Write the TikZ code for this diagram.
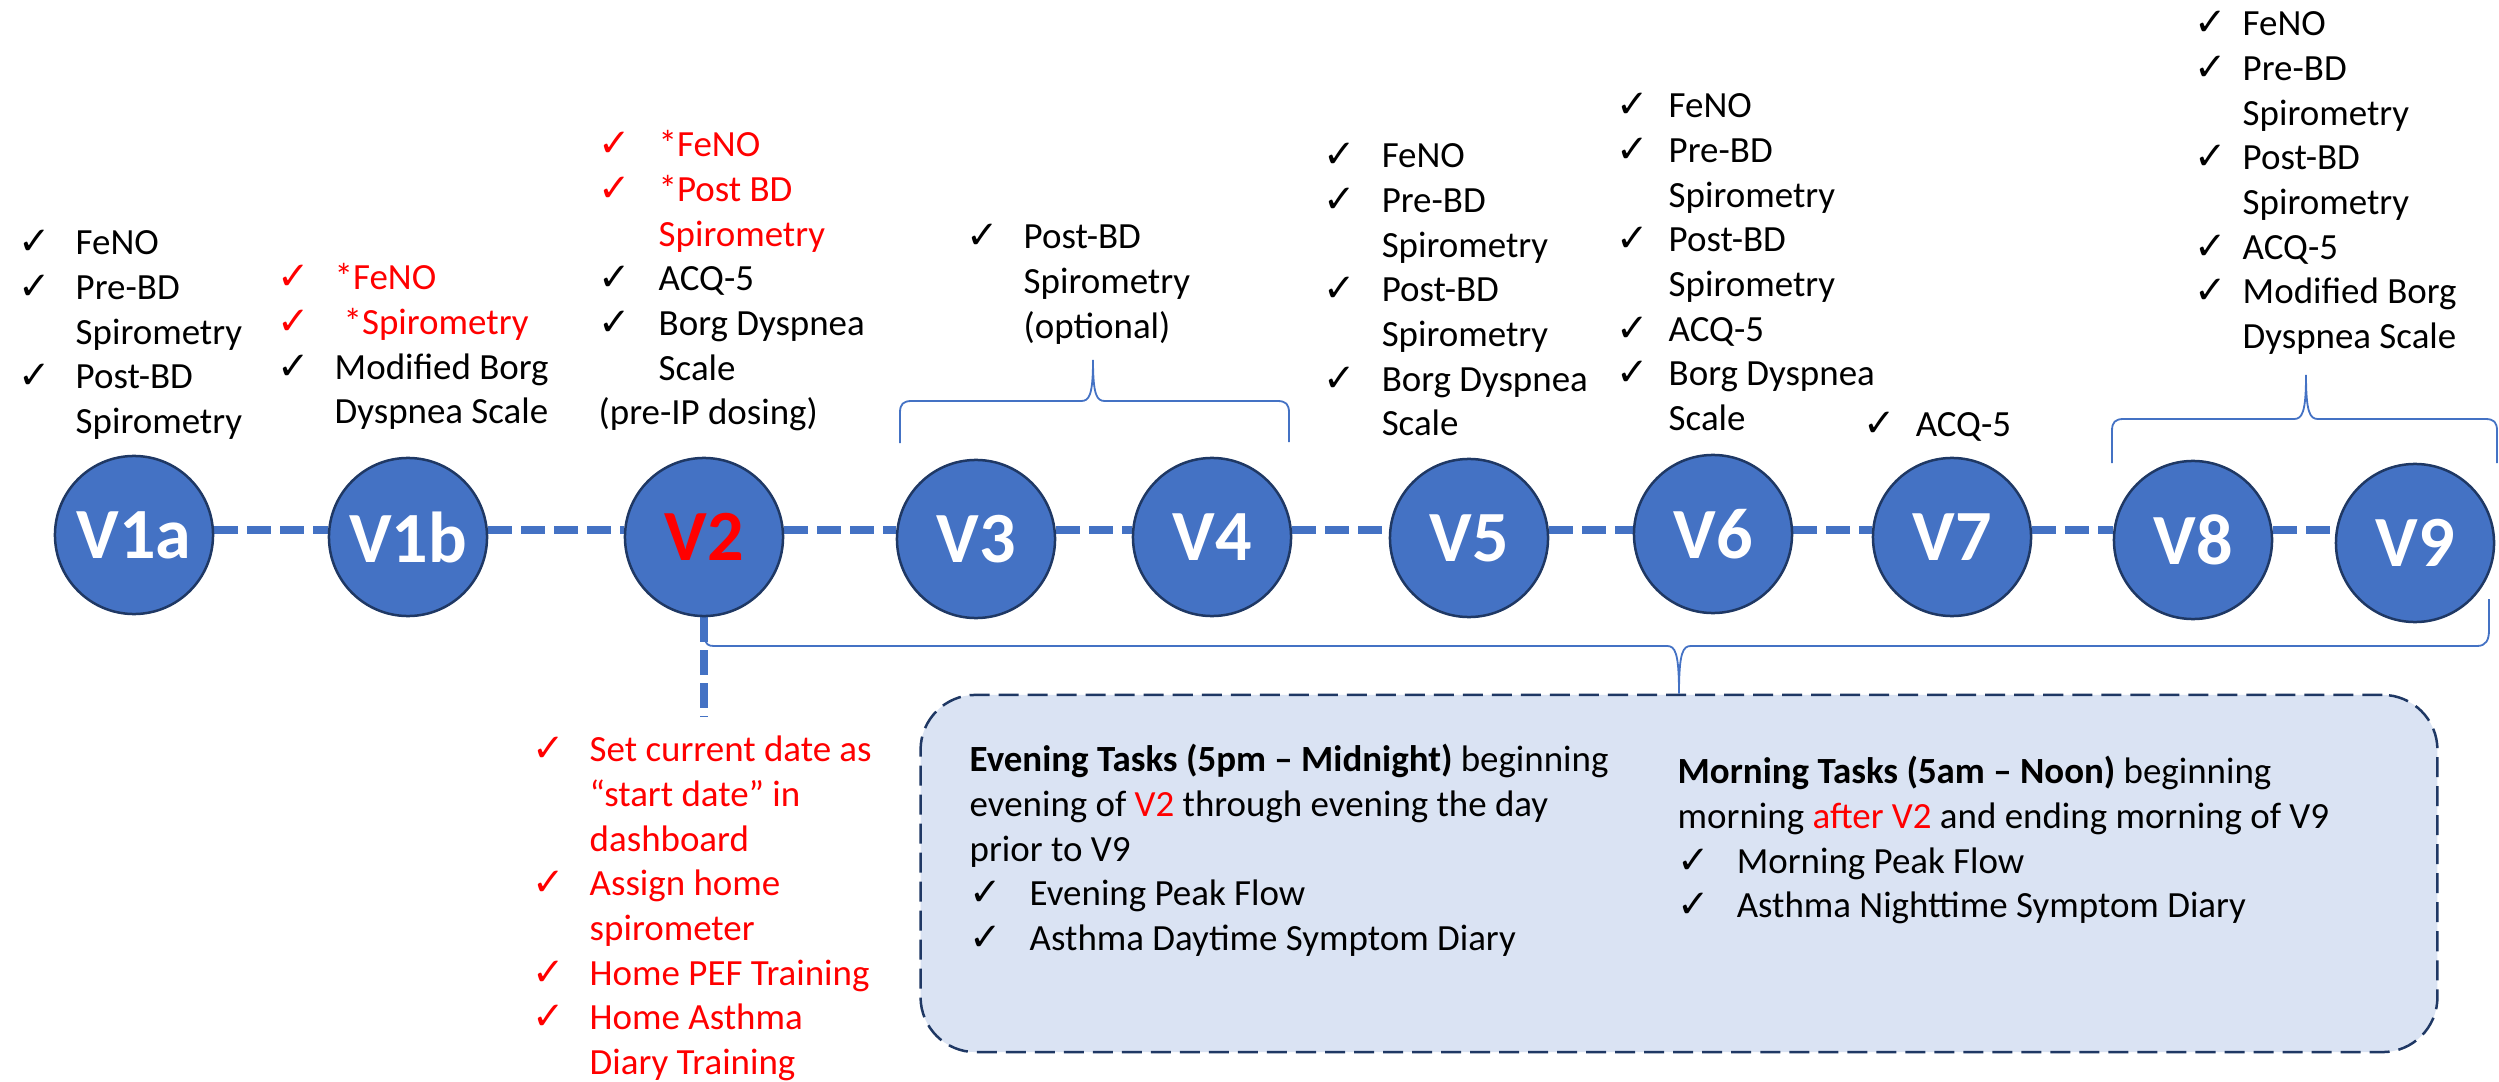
\documentclass[tikz,border=0pt]{standalone}
\usepackage{fontspec}
\setmainfont{Carlito}
\newfontfamily\ckf{DejaVu Sans}
\usetikzlibrary{backgrounds}
\definecolor{vblue}{HTML}{4472C4}
\definecolor{navy}{HTML}{1F3864}
\definecolor{boxfill}{HTML}{DAE3F3}
\definecolor{vred}{HTML}{FF0000}
\newcommand\ci[2][0.57cm]{\strut\makebox[#1][l]{\ckf\fontsize{11}{12.8}\selectfont\char"2713}#2}
\newcommand\cj[2][0.57cm]{\strut\hspace*{#1}#2}
\tikzset{
  visit/.style={circle, draw=navy, line width=0.025cm, fill=vblue, minimum size=1.58cm, inner sep=0pt, text=white, font=\fontsize{20.5}{24}\selectfont\bfseries},
  conn/.style={vblue, line width=0.08cm, dash pattern=on 0.24cm off 0.09cm},
  lst/.style={anchor=north west, inner sep=0pt, align=left, font=\fontsize{10.5}{12.7}\selectfont},
  bracepath/.style={vblue, line width=0.018cm},
  taskbox/.style={draw=navy, fill=boxfill, line width=0.025cm, dash pattern=on 0.2cm off 0.09cm, rounded corners=0.55cm, minimum width=15.16cm, minimum height=3.57cm, inner sep=0pt}
}
\begin{document}
\begin{tikzpicture}[x=0.01cm,y=-0.01cm]
\useasboundingbox (0,0) rectangle (2499,1082);

% visits
\node[visit] (v1a) at (134,535) {V1a};
\node[visit] (v1b) at (408,537) {V1b};
\node[visit, text=vred] (v2) at (704,537) {V2};
\node[visit] (v3) at (976,539) {V3};
\node[visit] (v4) at (1212,537) {V4};
\node[visit] (v5) at (1469,538) {V5};
\node[visit] (v6) at (1713,534) {V6};
\node[visit] (v7) at (1952,537) {V7};
\node[visit] (v8) at (2193,540) {V8};
\node[visit] (v9) at (2415,543) {V9};
\coordinate (v2end) at (704,717);

\begin{pgfonlayer}{background}
\draw[conn] (v1a.east |- 0,530) -- (v1b.west |- 0,530);
\draw[conn] (v1b.east |- 0,530) -- (v2.west |- 0,530);
\draw[conn] (v2.east |- 0,530) -- (v3.west |- 0,530);
\draw[conn] (v3.east |- 0,530) -- (v4.west |- 0,530);
\draw[conn] (v4.east |- 0,530) -- (v5.west |- 0,530);
\draw[conn] (v5.east |- 0,530) -- (v6.west |- 0,530);
\draw[conn] (v6.east |- 0,530) -- (v7.west |- 0,530);
\draw[conn] (v7.east |- 0,530) -- (v8.west |- 0,530);
\draw[conn] (v8.east |- 0,530) -- (v9.west |- 0,530);
\draw[conn, dash pattern=on 0.25cm off 0.08cm] (v2) -- (v2end);
\end{pgfonlayer}

% task box
\node[taskbox] (box) at (1679,873.5) {};

% braces
\draw[bracepath] (900,443) -- (900,413) .. controls (900,404) and (903,401) .. (912,401) -- (1081,401) .. controls (1089,401) and (1093,396) .. (1093,360) .. controls (1093,396) and (1097,401) .. (1105,401) -- (1277,401) .. controls (1286,401) and (1289,404) .. (1289,413) -- (1289,442);
\draw[bracepath] (2112,463) -- (2112,431) .. controls (2112,422) and (2115,419) .. (2124,419) -- (2294,419) .. controls (2302,419) and (2306,413) .. (2306,375) .. controls (2306,413) and (2310,419) .. (2318,419) -- (2485,419) .. controls (2494,419) and (2497,422) .. (2497,431) -- (2497,463);
\draw[bracepath] (705,639) .. controls (706,644) and (708,646) .. (714,646) -- (1667,646) .. controls (1675,646) and (1679,652) .. (box.north) .. controls (1679,652) and (1683,646) .. (1691,646) -- (2477,646) .. controls (2486,646) and (2489,640) .. (2489,630) -- (2489,599);

% lists above visits
\node[lst] (l1a) at (18,223) {\ci{FeNO}\\ \ci{Pre-BD}\\ \cj{Spirometry}\\ \ci{Post-BD}\\ \cj{Spirometry}};
\node[lst] (l1b) at (277,258) {{\color{vred}\ci{*FeNO}}\\ {\color{vred}\ci{\hspace{0.09cm}*Spirometry}}\\ \ci{Modified Borg}\\ \cj{Dyspnea Scale}};
\node[lst] (l2) at (598,125) {{\color{vred}\ci[0.6cm]{*FeNO}}\\ {\color{vred}\ci[0.6cm]{*Post BD}}\\ {\color{vred}\cj[0.6cm]{Spirometry}}\\ \ci[0.6cm]{ACQ-5}\\ \ci[0.6cm]{Borg Dyspnea}\\ \cj[0.6cm]{Scale}\\ \strut(pre-IP dosing)};
\node[lst] (l34) at (966,217) {\ci{Post-BD}\\ \cj{Spirometry}\\ \cj{(optional)}};
\node[lst] (l5) at (1323,136) {\ci[0.58cm]{FeNO}\\ \ci[0.58cm]{Pre-BD}\\ \cj[0.58cm]{Spirometry}\\ \ci[0.58cm]{Post-BD}\\ \cj[0.58cm]{Spirometry}\\ \ci[0.58cm]{Borg Dyspnea}\\ \cj[0.58cm]{Scale}};
\node[lst] (l6) at (1616,86) {\ci[0.52cm]{FeNO}\\ \ci[0.52cm]{Pre-BD}\\ \cj[0.52cm]{Spirometry}\\ \ci[0.52cm]{Post-BD}\\ \cj[0.52cm]{Spirometry}\\ \ci[0.52cm]{ACQ-5}\\ \ci[0.52cm]{Borg Dyspnea}\\ \cj[0.52cm]{Scale}};
\node[lst] (l7) at (1863,405) {\ci[0.52cm]{ACQ-5}};
\node[lst] (l89) at (2194,4) {\ci[0.48cm]{FeNO}\\ \ci[0.48cm]{Pre-BD}\\ \cj[0.48cm]{Spirometry}\\ \ci[0.48cm]{Post-BD}\\ \cj[0.48cm]{Spirometry}\\ \ci[0.48cm]{ACQ-5}\\ \ci[0.48cm]{Modified Borg}\\ \cj[0.48cm]{Dyspnea Scale}};

% list below V2
\node[lst] (lred) at (532,730) {{\color{vred}\ci{Set current date as}}\\ {\color{vred}\cj{“start date” in}}\\ {\color{vred}\cj{dashboard}}\\ {\color{vred}\ci{Assign home}}\\ {\color{vred}\cj{spirometer}}\\ {\color{vred}\ci{Home PEF Training}}\\ {\color{vred}\ci{Home Asthma}}\\ {\color{vred}\cj{Diary Training}}};

% box texts
\node[lst] (eve) at (969,740) {\strut\textbf{Evening Tasks (5pm – Midnight)} beginning\\ \strut evening of {\color{vred}V2} through evening the day\\ \strut prior to V9\\ \ci[0.6cm]{Evening Peak Flow}\\ \ci[0.6cm]{Asthma Daytime Symptom Diary}};
\node[lst] (mor) at (1677,752) {\strut\textbf{Morning Tasks (5am – Noon)} beginning\\ \strut morning {\color{vred}after V2} and ending morning of V9\\ \ci[0.59cm]{Morning Peak Flow}\\ \ci[0.59cm]{Asthma Nighttime Symptom Diary}};
\end{tikzpicture}
\end{document}
